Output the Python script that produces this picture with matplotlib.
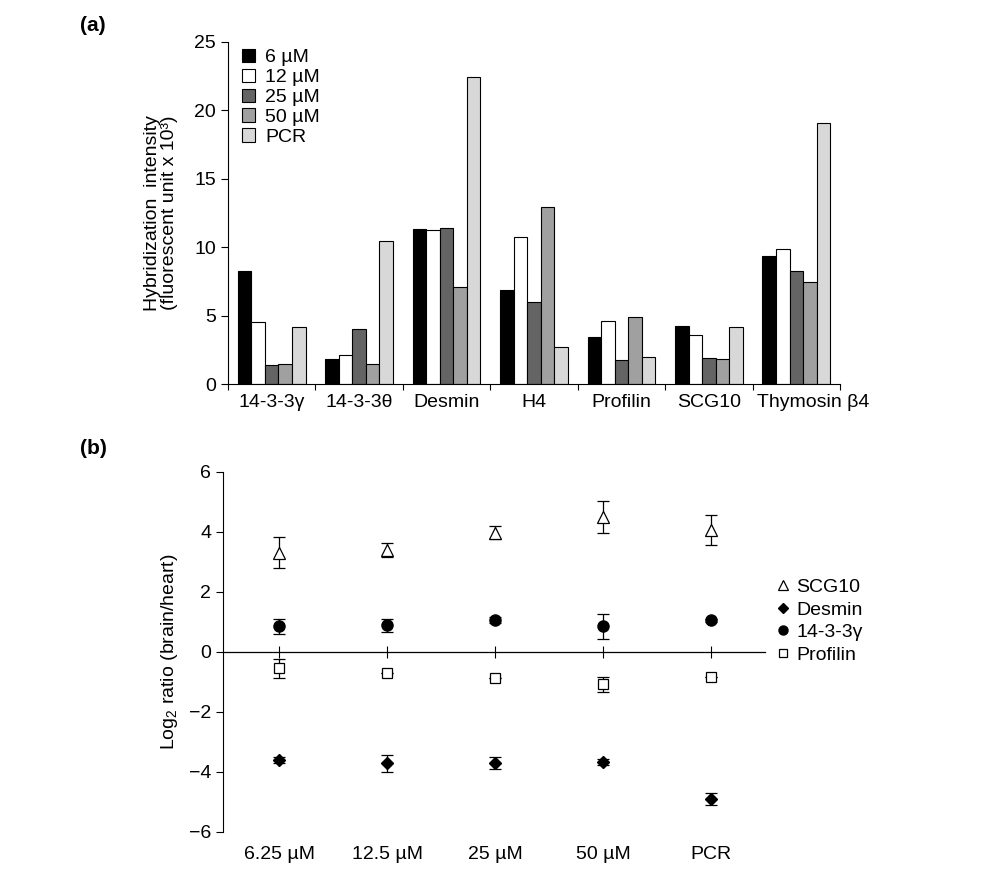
import numpy as np
import matplotlib
matplotlib.use('Agg')
import matplotlib.pyplot as plt
from matplotlib.lines import Line2D

plt.rcParams['font.family'] = ['Liberation Sans', 'DejaVu Sans']
plt.rcParams['mathtext.default'] = 'regular'
plt.rcParams['font.size'] = 14

# ===== data: panel (a) =====
genes = ['14-3-3γ', '14-3-3θ', 'Desmin', 'H4', 'Profilin', 'SCG10', 'Thymosin β4']
conc_labels = ['6 µM', '12 µM', '25 µM', '50 µM', 'PCR']
bar_colors = ['#000000', '#ffffff', '#646464', '#a0a0a0', '#d8d8d8']
val_6 = [8.28, 1.85, 11.34, 6.89, 3.41, 4.21, 9.35]
val_12 = [4.50, 2.14, 11.27, 10.71, 4.63, 3.60, 9.86]
val_25 = [1.36, 4.02, 11.39, 6.01, 1.73, 1.92, 8.23]
val_50 = [1.44, 1.44, 7.06, 12.95, 4.87, 1.80, 7.47]
val_pcr = [4.14, 10.42, 22.44, 2.73, 1.97, 4.14, 19.08]

# ===== data: panel (b) =====
conditions = ['6.25 µM', '12.5 µM', '25 µM', '50 µM', 'PCR']
scg10 = [3.30, 3.39, 3.97, 4.48, 4.06]
scg10_err = [0.51, 0.22, 0.22, 0.53, 0.50]
desmin = [-3.61, -3.72, -3.70, -3.67, -4.92]
desmin_err = [0.10, 0.28, 0.20, 0.10, 0.20]
ywhag = [0.84, 0.88, 1.04, 0.84, 1.04]
ywhag_err = [0.26, 0.21, 0.10, 0.42, 0.05]
profilin = [-0.56, -0.70, -0.87, -1.08, -0.84]
profilin_err = [0.31, 0.0, 0.0, 0.25, 0.0]

fig = plt.figure(figsize=(10, 8.91), dpi=100)

# ---------- (a) ----------
ax1 = fig.add_axes([0.228, 0.569, 0.612, 0.384])
x = np.arange(len(genes))
w = 0.155
series = [val_6, val_12, val_25, val_50, val_pcr]
for i, (vals, c, lab) in enumerate(zip(series, bar_colors, conc_labels)):
    ax1.bar(x + (i - 2) * w, vals, w, color=c, edgecolor='black', linewidth=0.8, label=lab)
ax1.set_xlim(-0.5, len(genes) - 0.5)
ax1.set_ylim(0, 25)
ax1.set_yticks([0, 5, 10, 15, 20, 25])
ax1.spines['top'].set_visible(False)
ax1.spines['right'].set_visible(False)
ax1.set_xticks(np.arange(len(genes) + 1) - 0.5)
ax1.set_xticklabels([])
# last label sits a little to the right, as in the original
label_pos = x.astype(float)
label_pos[-1] += 0.19
ax1.set_xticks(label_pos, minor=True)
ax1.set_xticklabels(genes, minor=True)
ax1.tick_params(axis='x', which='major', length=4, direction='out')
ax1.tick_params(axis='x', which='minor', length=0, pad=7)
ax1.tick_params(axis='y', length=5)
ax1.set_ylabel('Hybridization  intensity\n(fluorescent unit x 10³)', labelpad=12, linespacing=1.0)
ax1.legend(loc='upper left', bbox_to_anchor=(0.0, 1.02), frameon=False, handlelength=0.7,
           handleheight=0.7, handletextpad=0.5, labelspacing=0.12, borderaxespad=0.3)
fig.text(0.08, 0.965, '(a)', fontsize=15, fontweight='bold')

# ---------- (b) ----------
ax2 = fig.add_axes([0.223, 0.0666, 0.542, 0.404])
xb = np.arange(len(conditions))
eb = dict(capsize=4, elinewidth=0.9, capthick=0.9, ecolor='black', linestyle='none')
ax2.errorbar(xb, scg10, yerr=scg10_err, marker='^', ms=9, mfc='white', mec='black', mew=0.9, **eb)
ax2.errorbar(xb, desmin, yerr=desmin_err, marker='D', ms=6.5, mfc='black', mec='black', **eb)
ax2.errorbar(xb, ywhag, yerr=ywhag_err, marker='o', ms=8, mfc='black', mec='black', **eb)
ax2.errorbar(xb, profilin, yerr=profilin_err, marker='s', ms=7.5, mfc='white', mec='black', mew=0.9, **eb)
ax2.set_xlim(-0.52, 4.5)
ax2.set_ylim(-6, 6)
ax2.set_yticks([-6, -4, -2, 0, 2, 4, 6])
ax2.set_yticklabels(['−6', '−4', '−2', '0', '2', '4', '6'])
ax2.spines['top'].set_visible(False)
ax2.spines['right'].set_visible(False)
ax2.spines['bottom'].set_position(('data', 0))
ax2.spines['bottom'].set_linewidth(0.9)
ax2.set_xticks(xb)
ax2.set_xticklabels([])
ax2.tick_params(axis='x', direction='inout', length=8)
ax2.tick_params(axis='y', length=5)
sec = ax2.secondary_xaxis('bottom')
sec.set_xticks(xb)
sec.set_xticklabels(conditions)
sec.tick_params(length=0, pad=10)
sec.spines['bottom'].set_visible(False)
ax2.set_ylabel('Log$_2$ ratio (brain/heart)', labelpad=6)

handles = [
    Line2D([], [], ls='none', marker='^', ms=7, mfc='white', mec='black', mew=0.9),
    Line2D([], [], ls='none', marker='D', ms=5.5, mfc='black', mec='black'),
    Line2D([], [], ls='none', marker='o', ms=6.5, mfc='black', mec='black'),
    Line2D([], [], ls='none', marker='s', ms=6, mfc='white', mec='black', mew=0.9),
]
ax2.legend(handles, ['SCG10', 'Desmin', '14-3-3γ', 'Profilin'], loc='center left',
           bbox_to_anchor=(0.99, 0.585), frameon=False, handlelength=0.6,
           handletextpad=0.4, labelspacing=0.25)
fig.text(0.08, 0.49, '(b)', fontsize=15, fontweight='bold')

fig.savefig('out.png', dpi=100)
